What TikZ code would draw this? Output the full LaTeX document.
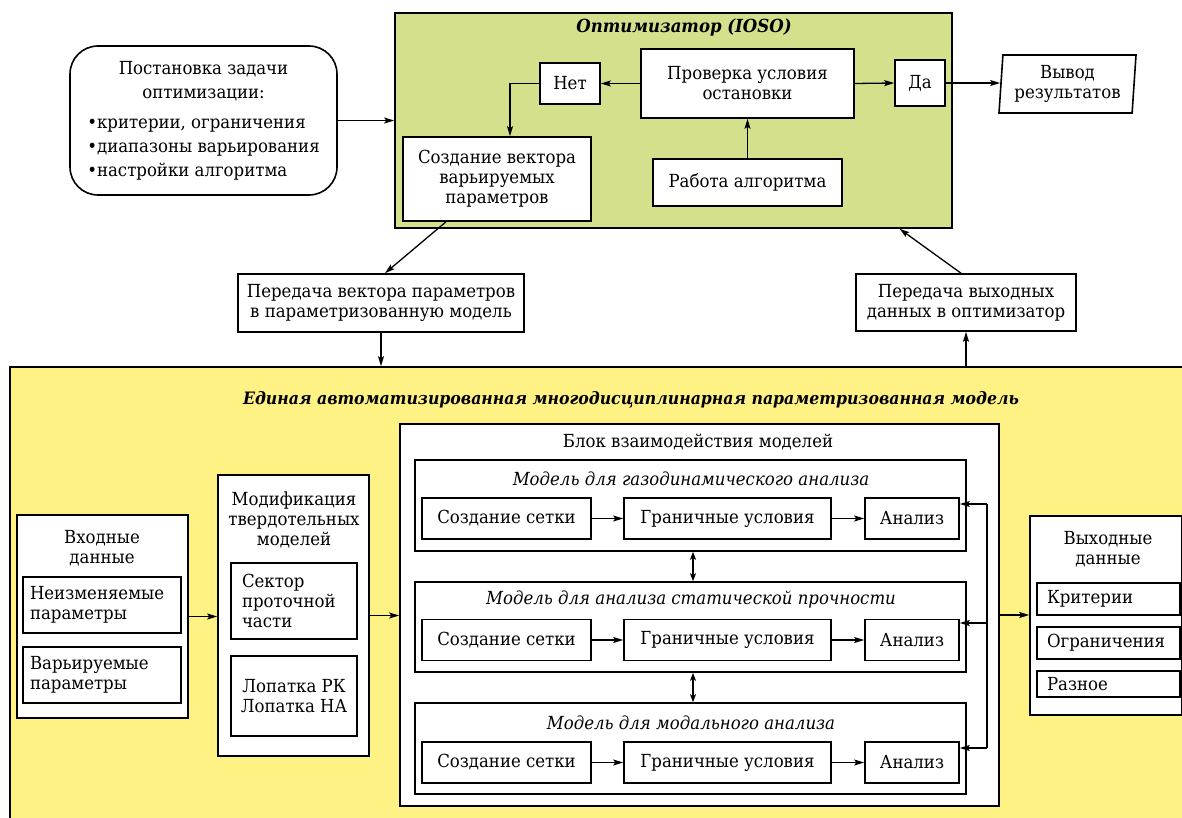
\documentclass[tikz,border=0pt]{standalone}
\usepackage{fontspec}
\setmainfont{DejaVu Serif}[FakeStretch=0.92]
\usetikzlibrary{arrows.meta,shapes.geometric}

\definecolor{optgreen}{RGB}{212,224,140}
\definecolor{modyellow}{RGB}{255,242,133}

\tikzset{
  frame/.style={draw, line width=1.6pt},
  box/.style={frame, fill=white, align=center, inner sep=2pt},
  lbox/.style={frame, fill=white, align=left, inner xsep=7pt, inner ysep=0pt},
  ttl/.style={font=\fontsize{18}{20}\selectfont\bfseries\itshape},
  sub/.style={font=\fontsize{18}{20}\selectfont\itshape},
  arr/.style={line width=1.3pt, -{Stealth[length=10pt,width=6pt,inset=2pt]}},
  darr/.style={line width=1.3pt, {Stealth[length=8pt,width=6pt,inset=2pt]}-{Stealth[length=8pt,width=6pt,inset=2pt]}}
}

\begin{document}
\begin{tikzpicture}[x=1pt, y=-1pt, font=\fontsize{18}{20}\selectfont]
	\useasboundingbox (0,0) rectangle (1182,818);

	% optimizer
	\node[frame, fill=optgreen, minimum width=557pt, minimum height=215pt] (opt) at (673.5,120.5) {};
	\node[ttl] (optT) at (684,28) {Оптимизатор (IOSO)};
	\node[box, minimum width=60pt, minimum height=41pt] (net) at (570,83.5) {Нет};
	\node[box, minimum width=213pt, minimum height=69pt] (check) at (747.5,83.5) {Проверка условия\\остановки};
	\node[box, minimum width=50pt, minimum height=46pt] (da) at (920,83) {Да};
	\node[box, minimum width=188pt, minimum height=84pt] (vec) at (497,179) {Создание вектора\\варьируемых\\параметров};
	\node[box, minimum width=189pt, minimum height=47pt] (alg) at (747.5,182.5) {Работа алгоритма};
	\node[frame, fill=white, trapezium, trapezium left angle=84, trapezium right angle=96,
		trapezium stretches body, minimum width=137pt, minimum height=58pt, inner sep=0pt,
		align=center] (res) at (1067.5,84) {Вывод\\результатов};

	\node[box, rounded corners=28pt, minimum width=267pt, minimum height=149pt] (task) at (203.5,120.5)
		{\renewcommand\arraystretch{1.2}\begin{tabular}{@{}l@{}}
		\multicolumn{1}{@{}c@{}}{Постановка задачи}\\
		\multicolumn{1}{@{}c@{}}{оптимизации:}\\[6pt]
		•критерии, ограничения\\
		•диапазоны варьирования\\
		•настройки алгоритма
		\end{tabular}};

	\node[box, minimum width=286pt, minimum height=58pt] (send) at (381,303) {Передача вектора параметров\\в параметризованную модель};
	\node[box, minimum width=220pt, minimum height=57pt] (back) at (966,302.5) {Передача выходных\\данных в оптимизатор};

	% unified model
	\node[frame, fill=modyellow, minimum width=1185pt, minimum height=463pt] (uni) at (602.5,598.5) {};
	\node[ttl, font=\fontsize{17.1}{20}\selectfont\bfseries\itshape] (uniT) at (631,400) {Единая автоматизированная многодисциплинарная параметризованная модель};

	\node[box, minimum width=171pt, minimum height=203pt] (inp) at (102.5,616.5) {};
	\node[align=center] (inpT) at (102,548) {Входные\\данные};
	\node[lbox, text width=144pt, minimum height=56pt] (inp1) at (102,605) {Неизменяемые\\параметры};
	\node[lbox, text width=144pt, minimum height=56pt] (inp2) at (102,675) {Варьируемые\\параметры};

	\node[box, minimum width=151pt, minimum height=281pt] (mod) at (293.5,615.5) {};
	\node[align=center] (modT) at (294,520) {Модификация\\твердотельных\\моделей};
	\node[lbox, inner xsep=11pt, text width=104pt, minimum height=76pt] (mod1) at (294,601) {Сектор\\проточной\\части};
	\node[box, minimum width=126pt, minimum height=80pt] (mod2) at (294,696) {Лопатка РК\\Лопатка НА};

	\node[box, minimum width=599pt, minimum height=382pt] (blk) at (699.5,615) {};
	\node (blkT) at (698,442) {Блок взаимодействия моделей};

	\node[box, minimum width=551pt, minimum height=91pt] (m1) at (690.5,505.5) {};
	\node[sub] (m1T) at (691,479) {Модель для газодинамического анализа};
	\node[box, minimum width=169pt, minimum height=41pt] (s1) at (506.5,518.5) {Создание сетки};
	\node[box, minimum width=207pt, minimum height=41pt] (g1) at (727.5,518.5) {Граничные условия};
	\node[box, minimum width=94pt, minimum height=41pt] (a1) at (912,518.5) {Анализ};

	\node[box, minimum width=551pt, minimum height=90pt] (m2) at (690.5,627) {};
	\node[sub] (m2T) at (691,600) {Модель для анализа статической прочности};
	\node[box, minimum width=169pt, minimum height=41pt] (s2) at (506.5,640) {Создание сетки};
	\node[box, minimum width=207pt, minimum height=41pt] (g2) at (727.5,640) {Граничные условия};
	\node[box, minimum width=94pt, minimum height=41pt] (a2) at (912,640) {Анализ};

	\node[box, minimum width=551pt, minimum height=91pt] (m3) at (690.5,748.5) {};
	\node[sub] (m3T) at (691,723) {Модель для модального анализа};
	\node[box, minimum width=169pt, minimum height=41pt] (s3) at (506.5,762.5) {Создание сетки};
	\node[box, minimum width=207pt, minimum height=41pt] (g3) at (727.5,762.5) {Граничные условия};
	\node[box, minimum width=94pt, minimum height=41pt] (a3) at (912,762.5) {Анализ};

	\node[box, minimum width=152pt, minimum height=199pt] (outp) at (1106,615.5) {};
	\node[align=center] (outpT) at (1108,549) {Выходные\\данные};
	\node[lbox, inner xsep=10pt, text width=123pt, minimum height=32pt] (o1) at (1108.5,599) {Критерии};
	\node[lbox, inner xsep=10pt, text width=123pt, minimum height=32pt] (o2) at (1108.5,643) {Ограничения};
	\node[lbox, inner xsep=10pt, text width=123pt, minimum height=26pt] (o3) at (1108.5,684) {Разное};

	\coordinate (fb1) at (987,504);
	\coordinate (fb2) at (987,623);
	\coordinate (fb3) at (987,748);

	% connectors
	\draw[arr] (task.east) -- (task.east -| opt.west);
	\draw[arr] (check.west) -- (net.east);
	\draw[arr] (net.west) -| ([xshift=13pt]vec.north);
	\draw[arr] (check.east) -- (da.west);
	\draw[arr] (da.east) -- (da.east -| res.west);
	\draw[arr] (alg.north) -- (check.south);
	\draw[arr] ([xshift=-51pt]vec.south) -- ([xshift=4pt]send.north);
	\draw[arr] (send.south) -- (send.south |- uni.north);
	\draw[arr] (back.south |- uni.north) -- (back.south);
	\draw[arr] ([xshift=-5pt]back.north) -- ([xshift=226pt]opt.south);

	\draw[arr] (inp.east) -- (inp.east -| mod.west);
	\draw[arr] (mod.east) -- (mod.east -| blk.west);
	\draw[arr] (blk.east) -- (blk.east -| outp.west);

	\draw[arr] (s1) -- (g1);
	\draw[arr] (g1) -- (a1);
	\draw[arr] (s2) -- (g2);
	\draw[arr] (g2) -- (a2);
	\draw[arr] (s3) -- (g3);
	\draw[arr] (g3) -- (a3);
	\draw[darr] ([xshift=2.5pt]m1.south) -- ([xshift=2.5pt]m2.north);
	\draw[darr] ([xshift=2.5pt]m2.south) -- ([xshift=2.5pt]m3.north);

	\draw[line width=1.3pt] (fb1) -- (fb3);
	\draw[arr] (fb1) -- (fb1 -| a1.east);
	\draw[arr] (fb2) -- (fb2 -| a2.east);
	\draw[arr] (fb3) -- (fb3 -| a3.east);
\end{tikzpicture}
\end{document}
